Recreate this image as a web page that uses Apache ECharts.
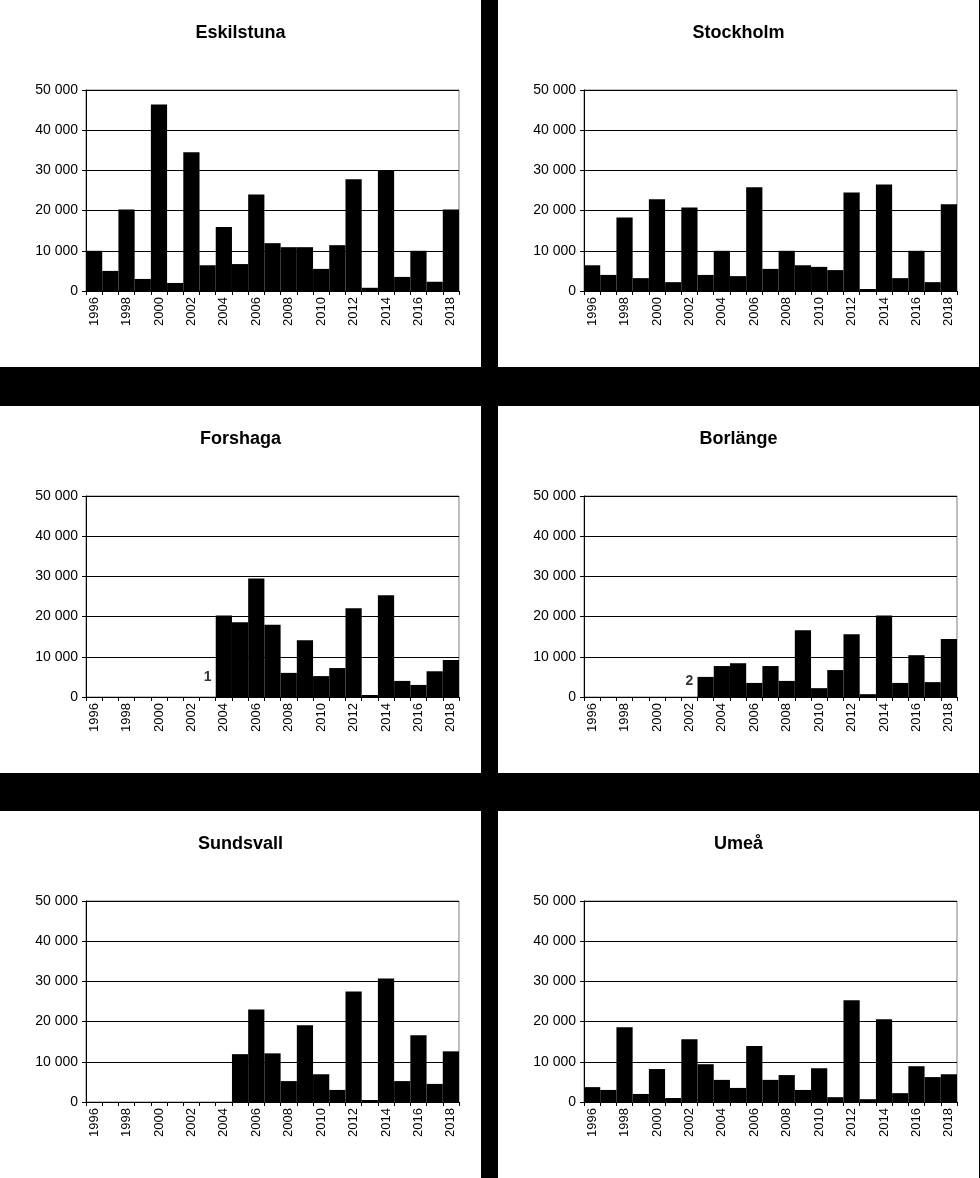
<!DOCTYPE html>
<html>
<head>
<meta charset="utf-8">
<script src="https://cdn.jsdelivr.net/npm/echarts@6/dist/echarts.min.js"></script>
<style>
  body { margin: 0; background: #000; width: 980px; height: 1178px; position: relative; overflow: hidden; }
  .panel { position: absolute; background: #fff; width: 481px; height: 367px; }
</style>
</head>
<body>
<div class="panel" id="p0" style="left:0;top:0"></div>
<div class="panel" id="p1" style="left:498px;top:0"></div>
<div class="panel" id="p2" style="left:0;top:406px"></div>
<div class="panel" id="p3" style="left:498px;top:406px"></div>
<div class="panel" id="p4" style="left:0;top:811px"></div>
<div class="panel" id="p5" style="left:498px;top:811px"></div>
<script>
const years = ['1996','1997','1998','1999','2000','2001','2002','2003','2004','2005','2006','2007','2008','2009','2010','2011','2012','2013','2014','2015','2016','2017','2018'];

const eskilstuna = [10000,5000,20300,3000,46400,2000,34500,6400,15900,6700,24000,11900,10900,10900,5500,11400,27800,800,30000,3500,10000,2300,20300];
const stockholm  = [6400,4000,18300,3200,22800,2200,20800,4000,10000,3700,25800,5500,10000,6400,6000,5200,24500,500,26500,3200,10000,2200,21600];
const forshaga   = [0,0,0,0,0,0,0,0,20300,18600,29500,18000,6000,14100,5200,7200,22100,500,25300,4000,3000,6400,9200];
const borlange   = [0,0,0,0,0,0,0,5000,7700,8400,3500,7700,4000,16600,2200,6700,15600,700,20300,3500,10400,3700,14400];
const sundsvall  = [0,0,0,0,0,0,0,0,0,11900,23000,12100,5200,19100,6900,3000,27500,500,30700,5200,16600,4500,12600];
const umea       = [3700,3000,18600,2000,8200,1000,15600,9400,5500,3500,13900,5500,6700,3000,8400,1200,25300,700,20600,2200,8900,6200,6900];

// footnote markers: [label, year, value]
const notes = [null, null, ['1','2003',5000], ['2','2002',4000], null, ['3','2004',2500]];

const titles = ['Eskilstuna','Stockholm','Forshaga','Borlänge','Sundsvall','Umeå'];
const seriesData = [eskilstuna, stockholm, forshaga, borlange, sundsvall, umea];

const font = '"Liberation Sans", Arial, sans-serif';

function fmt(v) {
  return String(v).replace(/\B(?=(\d{3})+(?!\d))/g, ' ');
}

titles.forEach(function (title, i) {
  let chart = echarts.init(document.getElementById('p' + i));
  let series = [{
    type: 'bar',
    data: seriesData[i],
    barCategoryGap: '0%',
    itemStyle: { color: '#000' },
    silent: true
  }];
  let n = notes[i];
  if (n) {
    series.push({
      type: 'scatter',
      data: [[n[1], n[2]]],
      symbolSize: 0,
      label: { show: true, formatter: n[0], color: '#000', fontWeight: 'bold', fontSize: 14, fontFamily: font, position: 'inside' }
    });
  }
  chart.setOption({
    animation: false,
    title: {
      text: title, left: 'center', top: 19,
      textStyle: { fontSize: 18, fontWeight: 'bold', color: '#000', fontFamily: font }
    },
    grid: { left: 86, right: 22, top: 90, height: 201, show: true, borderColor: '#808080', borderWidth: 1 },
    xAxis: {
      type: 'category',
      data: years,
      axisLine: { lineStyle: { color: '#000' } },
      axisTick: { show: true, interval: 0, lineStyle: { color: '#000' }, length: 4 },
      axisLabel: { interval: 1, rotate: 90, fontSize: 13, color: '#000', fontFamily: font, margin: 6 },
      splitLine: { show: false }
    },
    yAxis: {
      type: 'value', min: 0, max: 50000, interval: 10000,
      axisLine: { show: true, lineStyle: { color: '#000' } },
      axisTick: { show: true, lineStyle: { color: '#000' }, length: 4 },
      axisLabel: { formatter: fmt, fontSize: 14, color: '#000', fontFamily: font, margin: 8 },
      splitLine: { lineStyle: { color: '#000', width: 1 } }
    },
    series: series
  });
});
</script>
</body>
</html>
